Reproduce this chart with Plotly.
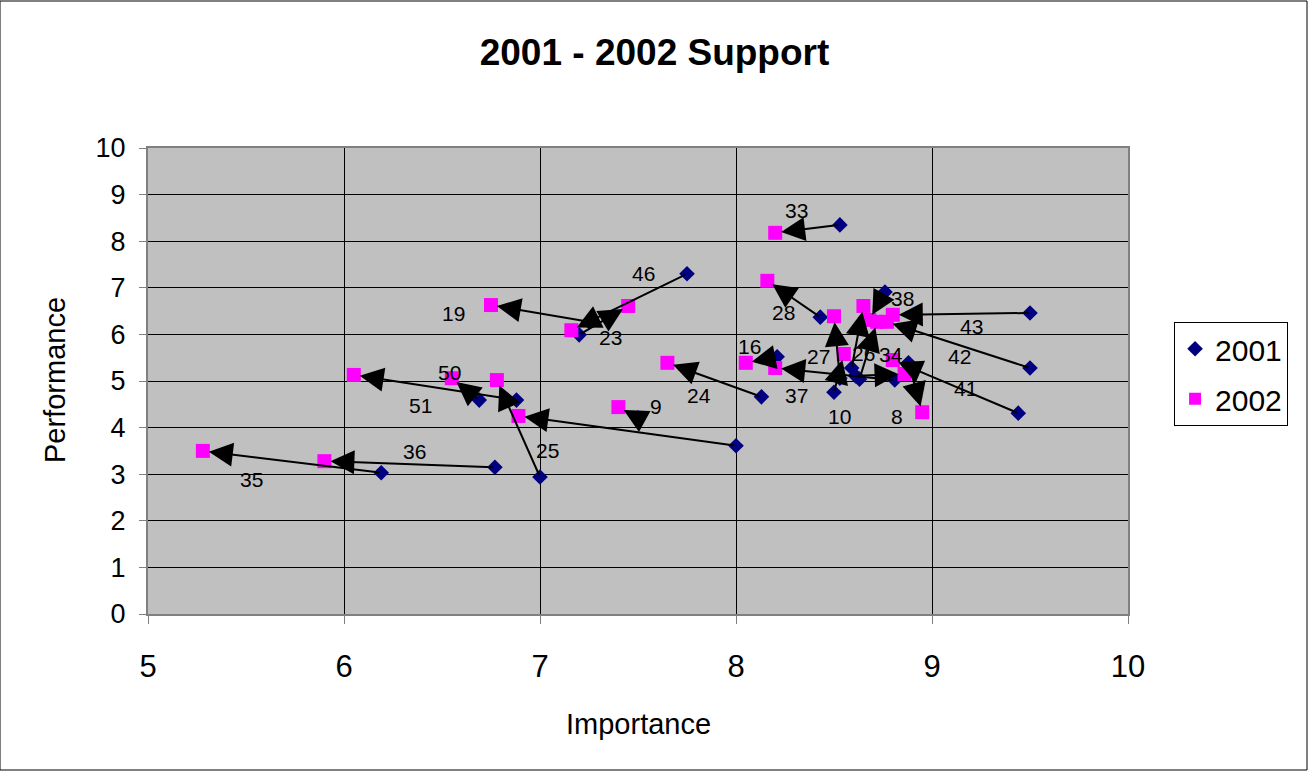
import plotly.graph_objects as go

# ---- data ----
imp_2001 = [8.53, 7.75, 7.25, 7.20, 8.43, 8.76, 9.50, 9.50, 9.44, 8.88, 8.50, 8.53, 8.59,
            8.63, 8.61, 8.81, 8.21, 8.13, 7.50, 7.00, 8.00, 6.77, 6.19, 6.69, 6.88]
perf_2001 = [8.35, 7.30, 6.27, 5.99, 6.37, 6.91, 6.46, 5.28, 4.31, 5.39, 4.76, 5.06, 5.28,
             5.04, 5.11, 5.02, 5.52, 4.66, 4.21, 2.94, 3.61, 3.15, 3.03, 4.59, 4.59]
imp_2002 = [8.20, 7.16, 6.75, 7.45, 8.16, 8.68, 8.80, 8.77, 8.80, 8.95, 8.55, 8.50, 8.65,
            8.72, 8.86, 8.20, 8.05, 7.65, 7.40, 6.78, 6.89, 5.90, 5.28, 6.55, 6.05]
perf_2002 = [8.18, 6.09, 6.63, 6.61, 7.15, 6.31, 6.42, 6.27, 5.45, 4.33, 5.58, 6.39, 6.61,
             6.27, 5.15, 5.28, 5.39, 5.39, 4.44, 5.02, 4.25, 3.28, 3.50, 5.06, 5.13]

label_text = ['33', '46', '19', '23', '28', '38', '43', '42', '41', '8', '10', '27', '26',
              '34', '37', '16', '24', '9', '25', '36', '35', '50', '51']
label_x = [8.31, 7.53, 6.56, 7.36, 8.24, 8.85, 9.20, 9.14, 9.17, 8.82, 8.53, 8.42, 8.65,
           8.79, 8.31, 8.07, 7.81, 7.59, 7.04, 6.36, 5.53, 6.54, 6.39]
label_y = [8.65, 7.30, 6.44, 5.94, 6.48, 6.76, 6.16, 5.52, 4.83, 4.23, 4.23, 5.52, 5.60,
           5.56, 4.68, 5.75, 4.68, 4.46, 3.50, 3.48, 2.88, 5.19, 4.48]

x_ticks = [5, 6, 7, 8, 9, 10]
y_ticks = [0, 1, 2, 3, 4, 5, 6, 7, 8, 9, 10]

FONT = "Arial, Liberation Sans, sans-serif"

fig = go.Figure()
fig.add_trace(go.Scatter(
    x=imp_2001, y=perf_2001, mode="markers", name="2001", legendgroup="a",
    marker=dict(symbol="diamond", size=12, color="#000080", line=dict(width=0)),
))
fig.add_trace(go.Scatter(
    x=imp_2002, y=perf_2002, mode="markers", name="2002", legendgroup="b",
    marker=dict(symbol="square", size=14, color="#FF00FF", line=dict(width=0)),
))

annotations = []
for x1, y1, x2, y2 in zip(imp_2001, perf_2001, imp_2002, perf_2002):
    annotations.append(dict(
        x=x2, y=y2, ax=x1, ay=y1, xref="x", yref="y", axref="x", ayref="y",
        text="", showarrow=True, arrowhead=2, arrowsize=2.4, arrowwidth=2,
        arrowcolor="black", standoff=6, startstandoff=0,
    ))
for t, lx, ly in zip(label_text, label_x, label_y):
    annotations.append(dict(
        x=lx, y=ly, xref="x", yref="y", text=t, showarrow=False,
        font=dict(family=FONT, size=21, color="black"),
    ))

# axis titles
annotations.append(dict(
    x=0.5, y=-0.236, xref="paper", yref="paper", text="Importance", showarrow=False,
    yanchor="middle", font=dict(family=FONT, size=29, color="black"),
))
annotations.append(dict(
    x=-0.095, y=0.502, xref="paper", yref="paper", text="Performance", showarrow=False,
    textangle=-90, xanchor="center", yanchor="middle",
    font=dict(family=FONT, size=29, color="black"),
))

fig.update_layout(
    width=1309, height=771,
    margin=dict(l=148, r=181, t=148, b=157),
    paper_bgcolor="white", plot_bgcolor="#C0C0C0",
    title=dict(text="<b>2001 - 2002 Support</b>", x=0.5, xref="container",
               y=1 - 52 / 771, yref="container", xanchor="center", yanchor="middle",
               font=dict(family=FONT, size=37, color="black")),
    showlegend=True,
    legend=dict(x=1.047, y=0.627, xanchor="left", yanchor="top",
                bgcolor="white", bordercolor="black", borderwidth=1,
                font=dict(family=FONT, size=30, color="black"),
                traceorder="grouped", tracegroupgap=8,
                entrywidth=82, itemsizing="constant"),
    annotations=annotations,
    shapes=[dict(type="rect", xref="paper", yref="paper",
                 x0=-148 / 980, x1=(1307 - 148) / 980, y0=-(770 - 614) / 466, y1=(614 - 1) / 466,
                 line=dict(color="black", width=1), fillcolor="rgba(0,0,0,0)", layer="below")],
)
fig.update_xaxes(
    range=[5, 10], tickvals=x_ticks, ticktext=[str(v) for v in x_ticks],
    showgrid=True, gridcolor="black", gridwidth=1, zeroline=False,
    showline=True, linecolor="#808080", linewidth=2, mirror=True,
    ticks="outside", ticklen=8, tickcolor="#808080", tickwidth=1,
    ticklabelstandoff=16,
    tickfont=dict(family=FONT, size=31, color="black"),
)
fig.update_yaxes(
    range=[0, 10], tickvals=y_ticks, ticktext=[str(v) for v in y_ticks],
    showgrid=True, gridcolor="black", gridwidth=1, zeroline=False,
    showline=True, linecolor="#808080", linewidth=2, mirror=True,
    ticks="outside", ticklen=7, tickcolor="#808080", tickwidth=1,
    ticklabelstandoff=8,
    tickfont=dict(family=FONT, size=27, color="black"),
)

fig.write_html("out.html", config={"displayModeBar": False},
               post_script="document.body.style.margin='0';")
